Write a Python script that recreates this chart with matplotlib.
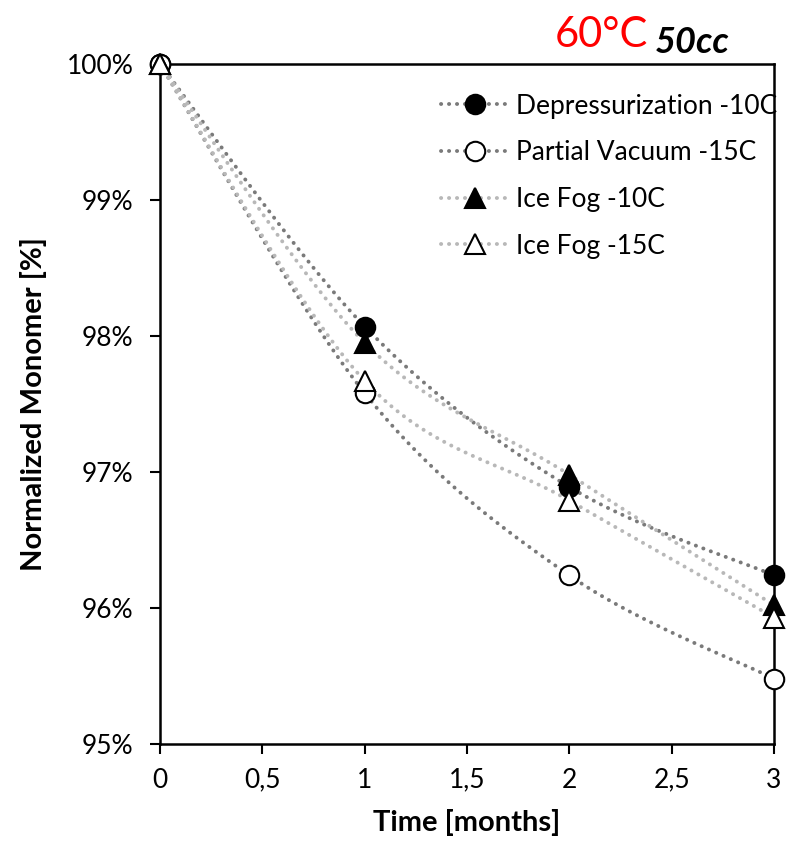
import numpy as np
import matplotlib
matplotlib.use("Agg")
import matplotlib.pyplot as plt
from matplotlib.ticker import FuncFormatter

# data
months = [0, 1, 2, 3]
depress_10 = [100.0, 98.07, 96.89, 96.24]
vacuum_15 = [100.0, 97.58, 96.24, 95.48]
icefog_10 = [100.0, 97.95, 96.98, 96.02]
icefog_15 = [100.0, 97.67, 96.79, 95.93]
labels = ["Depressurization -10C", "Partial Vacuum -15C", "Ice Fog -10C", "Ice Fog -15C"]

DARK = "#7a7a7a"
LIGHT = "#b8b8b8"
DOTS = (0, (0.05, 2.0))


def smooth(x, y, n=40):
    # Excel-style smoothed line: Catmull-Rom bezier between the points
    x = np.asarray(x, float); y = np.asarray(y, float)
    px = np.concatenate([[x[0]], x, [x[-1]]])
    py = np.concatenate([[y[0]], y, [y[-1]]])
    xs, ys = [], []
    t = np.linspace(0, 1, n)
    for i in range(1, len(px) - 2):
        p0 = np.array([px[i], py[i]]); p3 = np.array([px[i + 1], py[i + 1]])
        p1 = p0 + (np.array([px[i + 1], py[i + 1]]) - np.array([px[i - 1], py[i - 1]])) / 6
        p2 = p3 - (np.array([px[i + 2], py[i + 2]]) - np.array([px[i], py[i]])) / 6
        b = ((1 - t) ** 3)[:, None] * p0 + (3 * (1 - t) ** 2 * t)[:, None] * p1 \
            + (3 * (1 - t) * t ** 2)[:, None] * p2 + (t ** 3)[:, None] * p3
        xs.append(b[:, 0]); ys.append(b[:, 1])
    return np.concatenate(xs), np.concatenate(ys)


plt.rcParams["font.family"] = ["Lato", "DejaVu Sans"]
fig = plt.figure(figsize=(7.98, 8.47), dpi=100)
ax = fig.add_axes([0.2005, 0.1216, 0.7695, 0.8028])

series = [
    (depress_10, DARK, "o", "black"),
    (vacuum_15, DARK, "o", "white"),
    (icefog_10, LIGHT, "^", "black"),
    (icefog_15, LIGHT, "^", "white"),
]
handles = []
for (vals, lc, mk, fc), lab in zip(series, labels):
    sx, sy = smooth(months, vals)
    ax.plot(sx, sy, ls=DOTS, lw=2.8, color=lc, dash_capstyle="round", zorder=2)
    ax.plot(months, vals, ls="none", marker=mk, ms=14, mfc=fc, mec="black", mew=1.5,
            zorder=3, clip_on=False)
    h, = ax.plot([], [], ls=DOTS, lw=2.8, color=lc, dash_capstyle="round",
                 marker=mk, ms=14, mfc=fc, mec="black", mew=1.5)
    handles.append(h)

ax.set_xlim(0, 3)
ax.set_ylim(95, 100)
ax.set_xticks(np.arange(0, 3.01, 0.5))
ax.set_yticks(np.arange(95, 100.01, 1))
ax.xaxis.set_major_formatter(FuncFormatter(lambda v, p: f"{v:g}".replace(".", ",")))
ax.yaxis.set_major_formatter(FuncFormatter(lambda v, p: f"{v:.0f}%"))
ax.tick_params(labelsize=19, width=1.5, length=7, direction="out", colors="black")
ax.tick_params(axis="x", pad=10)
ax.tick_params(axis="y", pad=12)
for s in ax.spines.values():
    s.set_linewidth(1.8)

ax.set_xlabel("Time [months]", fontsize=21, fontweight="bold", labelpad=12)
ax.set_ylabel("Normalized Monomer [%]", fontsize=21, fontweight="bold", labelpad=14)

leg = ax.legend(handles, labels, loc="upper left", bbox_to_anchor=(0.44, 0.972), frameon=False,
                fontsize=19, handlelength=2.6, handletextpad=0.25, labelspacing=0.82,
                borderaxespad=0)

fig.text(0.695, 0.944, "60°C", color="red", fontsize=30, ha="left", va="baseline")
fig.text(0.82, 0.938, "50cc", color="black", fontsize=26, fontweight="bold", style="italic",
         ha="left", va="baseline")

fig.savefig("out.png", dpi=100)
